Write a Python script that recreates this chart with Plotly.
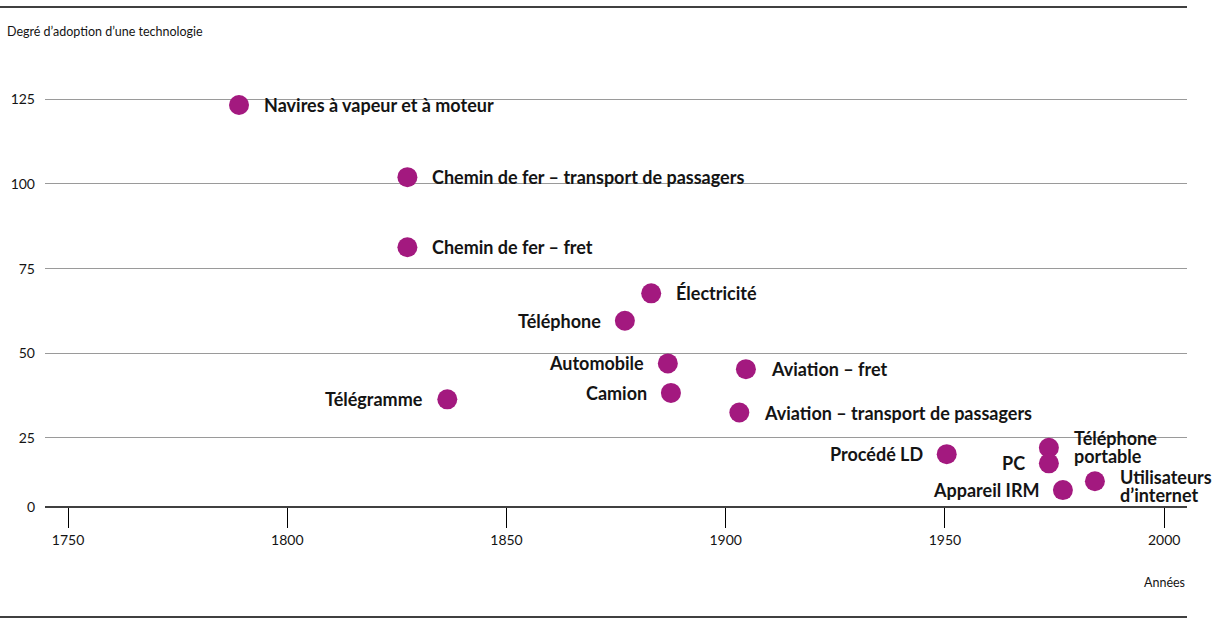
import plotly.graph_objects as go

# Data
names = ["Navires à vapeur et à moteur", "Chemin de fer – transport de passagers",
         "Chemin de fer – fret", "Électricité", "Téléphone", "Automobile", "Camion",
         "Aviation – fret", "Aviation – transport de passagers", "Télégramme",
         "Procédé LD", "Téléphone\nportable", "PC", "Appareil IRM", "Utilisateurs\nd’internet"]
years = [1789.0, 1827.4, 1827.4, 1883.0, 1877.0, 1886.8, 1887.5, 1904.6, 1903.1, 1836.5,
         1950.4, 1973.7, 1973.7, 1976.9, 1984.2]
values = [123.3, 102.0, 81.3, 67.7, 59.6, 47.0, 38.3, 45.3, 32.5, 36.4,
          20.2, 22.1, 17.5, 9.6, 12.2]

x_ticks = [1750, 1800, 1850, 1900, 1950, 2000]
y_tick_vals = [4.6, 25, 50, 75, 100, 125]
y_tick_text = ["0", "25", "50", "75", "100", "125"]

# label placement (style only)
left_labels = {"Téléphone", "Automobile", "Camion", "Télégramme", "Procédé LD", "PC", "Appareil IRM"}
extra_yshift = {"Utilisateurs\nd’internet": -5, "Téléphone\nportable": 1}

PURPLE = "#A3197F"
TXT = "#141414"
LABEL_SIZE = 18
LINE_H = 18

fig = go.Figure()
fig.add_trace(go.Scatter(
    x=years, y=values, mode="markers",
    marker=dict(size=20, color=PURPLE, line=dict(width=0)),
    hoverinfo="skip", showlegend=False))

for n, x, y in zip(names, years, values):
    left = n in left_labels
    lines = n.split("\n")
    k = len(lines)
    for i, line in enumerate(lines):
        ys = -(i - (k - 1) / 2) * LINE_H + extra_yshift.get(n, 0)
        fig.add_annotation(
            x=x, y=y, text=line, showarrow=False,
            xanchor="right" if left else "left",
            xshift=-22 if left else 23, yshift=ys,
            yanchor="middle", align="left",
            font=dict(family="Lato", size=LABEL_SIZE, color=TXT, weight="bold"))

fig.update_layout(
    width=1213, height=623,
    margin=dict(l=45, r=26, t=60, b=116),
    plot_bgcolor="white", paper_bgcolor="white",
    xaxis=dict(range=[1744.75, 2005.2], tickvals=x_ticks, ticks="outside",
               ticklen=20, tickcolor="black", tickwidth=1, showgrid=False,
               zeroline=False, showline=False,
               tickfont=dict(family="Lato", size=14, color=TXT)),
    yaxis=dict(range=[4.6, 136.6], tickvals=y_tick_vals, ticktext=y_tick_text,
               showgrid=True, gridcolor="#9a9a9a", gridwidth=1, zeroline=False,
               showline=False, ticks="", ticklabelstandoff=9,
               tickfont=dict(family="Lato", size=14, color=TXT)),
    font=dict(family="Lato", color=TXT),
)

# baseline (black)
fig.add_shape(type="line", xref="paper", yref="paper", x0=0, x1=1, y0=0, y1=0,
              line=dict(color="black", width=1.5), layer="above")
# top and bottom rules
fig.add_shape(type="line", xref="paper", yref="paper", x0=-45/1142, x1=1,
              y0=(507-7)/447, y1=(507-7)/447, line=dict(color="black", width=1.5))
fig.add_shape(type="line", xref="paper", yref="paper", x0=-45/1142, x1=1,
              y0=(507-617)/447, y1=(507-617)/447, line=dict(color="black", width=1.5))

fig.add_annotation(xref="paper", yref="paper", x=-40/1142, y=(507-32)/447,
                   text="Degré d’adoption d’une technologie", showarrow=False,
                   xanchor="left", yanchor="middle",
                   font=dict(family="Lato", size=12.5, color=TXT))
fig.add_annotation(xref="paper", yref="paper", x=1, y=(507-582)/447,
                   text="Années", showarrow=False, xanchor="right", yanchor="middle",
                   font=dict(family="Lato", size=12.5, color=TXT))

fig.write_html("out.html")
